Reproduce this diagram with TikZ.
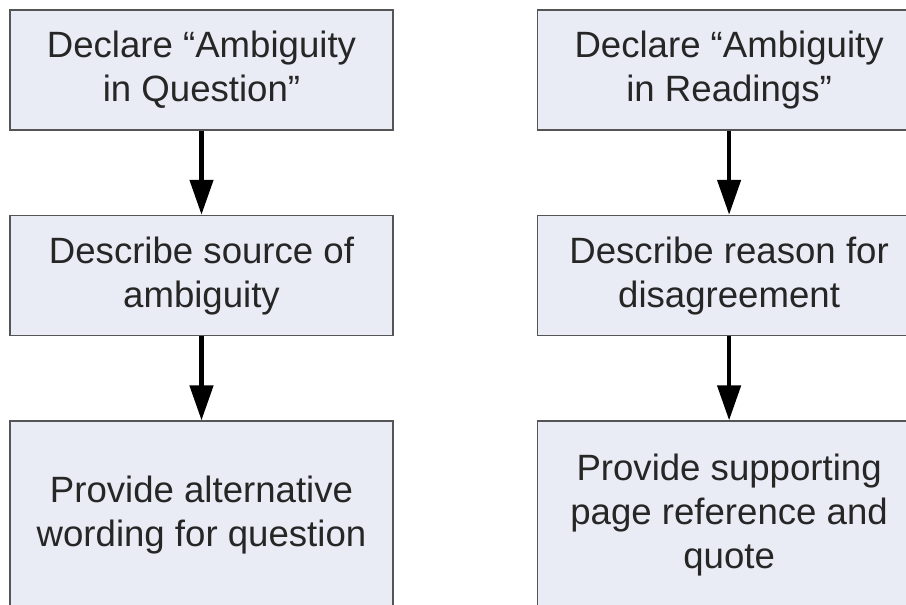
\documentclass[tikz,border=0pt]{standalone}
\usepackage{fontspec}
\setmainfont{Liberation Sans}
\usetikzlibrary{positioning}
\usetikzlibrary{arrows.meta}

\definecolor{boxfill}{RGB}{233,236,245}
\definecolor{boxline}{RGB}{85,85,85}
\definecolor{boxtext}{RGB}{38,38,38}

\begin{document}
\begin{tikzpicture}[x=1pt, y=1pt]

\def\BoxWidth{383pt}
\def\BoxHeight{120pt}
\def\Spacing{84pt}
\def\HSpacing{143pt}

% Styles
\tikzstyle{box} =
	[align=center, minimum width=\BoxWidth, inner sep=0pt,
	 text=boxtext, font=\fontsize{36.6}{44}\selectfont]

\tikzstyle{stepbox} =
	[box, draw=boxline, fill=boxfill, line width=1.6pt, minimum height=\BoxHeight]

\tikzstyle{flow} =
	[-{Triangle[length=35pt, width=23pt]}, line width=4.5pt, black]

\useasboundingbox (0, 0) rectangle (906, 605);
\clip (0, 0) rectangle (906, 605);

% Question column

\node (DeclareQuestion) at (201.5, 535) [stepbox]
	{Declare “Ambiguity\\in Question”};
\node (SourceQuestion) [stepbox, below=\Spacing of DeclareQuestion]
	{Describe source of\\ambiguity};
\node (WordingQuestion) [stepbox, minimum height=188pt, below=\Spacing of SourceQuestion]
	{Provide alternative\\wording for question};

% Readings column

\node (DeclareReadings) [stepbox, right=\HSpacing of DeclareQuestion]
	{Declare “Ambiguity\\in Readings”};
\node (ReasonReadings) [stepbox, below=\Spacing of DeclareReadings]
	{Describe reason for\\disagreement};
\node (QuoteReadings) [stepbox, minimum height=188pt, below=\Spacing of ReasonReadings]
	{Provide supporting\\page reference and\\quote};

% Edges

\path[flow]
	(DeclareQuestion) edge (SourceQuestion)
	(SourceQuestion) edge (WordingQuestion)
	(DeclareReadings) edge (ReasonReadings)
	(ReasonReadings) edge (QuoteReadings);

\end{tikzpicture}
\end{document}
